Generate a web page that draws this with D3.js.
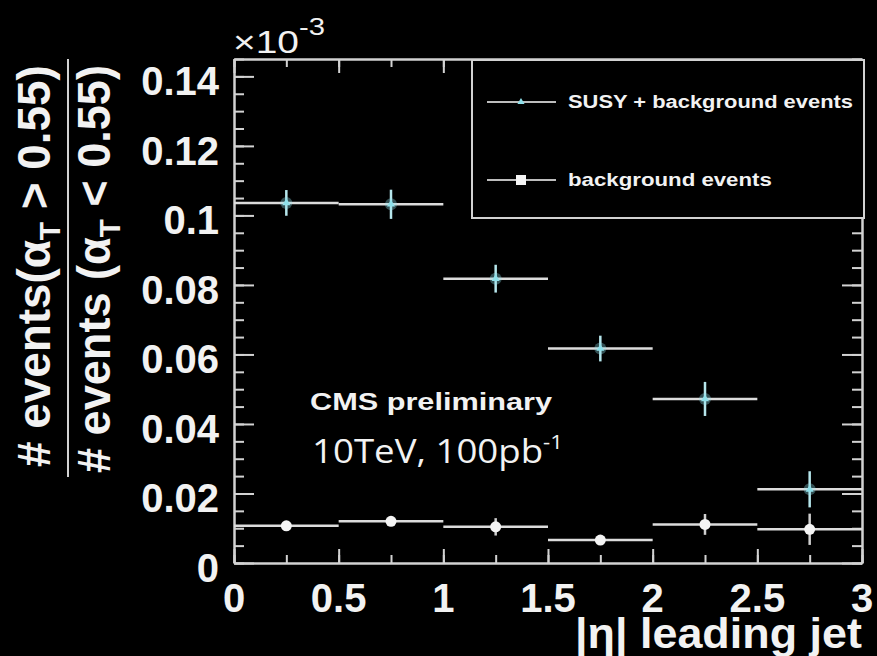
<!DOCTYPE html>
<html>
<head>
<meta charset="utf-8">
<script src="https://cdn.jsdelivr.net/npm/d3@7"></script>
<style>
  html, body { margin: 0; padding: 0; background: #000; }
  svg { display: block; }
</style>
</head>
<body>
<div id="chart"></div>
<script>
    // bins in |eta| of the leading jet
    var binLow = [0, 0.5, 1, 1.5, 2, 2.5];
    var binHigh = [0.5, 1, 1.5, 2, 2.5, 3];

    // ratio values (x 10^-3)
    var susyValues = [0.1036, 0.1032, 0.0818, 0.0617, 0.0472, 0.0212];
    var susyErrors = [0.0037, 0.0042, 0.0040, 0.0037, 0.0049, 0.0052];
    var bgValues = [0.0107, 0.0120, 0.0104, 0.0066, 0.0111, 0.0097];
    var bgErrors = [0.0008, 0.0012, 0.0025, 0.0008, 0.0030, 0.0045];

    var yTicks = [0, 0.02, 0.04, 0.06, 0.08, 0.1, 0.12, 0.14];
    var yTickLabels = ["0", "0.02", "0.04", "0.06", "0.08", "0.1", "0.12", "0.14"];
    var xTicks = [0, 0.5, 1, 1.5, 2, 2.5, 3];
    var xTickLabels = ["0", "0.5", "1", "1.5", "2", "2.5", "3"];

    var W = 877, H = 656;
    // plot frame (window.top is reserved, so prefixed names)
    var fLeft = 234, fRight = 862, fTop = 59, fBottom = 563;
    var clrAxis = "#d2d2d2";
    var clrText = "#f2f2f2";
    var clrSusy = "#8fe0ea";
    var bold = "'Liberation Sans', Arial, sans-serif";

    var svg = d3.select("#chart").append("svg")
      .attr("width", W).attr("height", H)
      .style("background", "#000");

    var x = d3.scaleLinear().domain([0, 3]).range([fLeft, fRight]);
    var y = d3.scaleLinear().domain([0, 0.145]).range([fBottom, fTop]);

    var yMinor = d3.range(0, 0.1451, 0.005);
    var xMinor = d3.range(0, 3.001, 0.25);

    // frame with ticks on all four sides (ROOT style)
    function axisGroup(axis, tx, ty) {
      var g = svg.append("g").attr("transform", "translate(" + tx + "," + ty + ")").call(axis);
      g.selectAll("path, line").attr("stroke", clrAxis).attr("stroke-width", 2);
      g.selectAll("text").remove();
      return g;
    }
    axisGroup(d3.axisRight(y).tickValues(yMinor).tickSize(10).tickSizeOuter(0).tickFormat(""), fLeft, 0);
    axisGroup(d3.axisRight(y).tickValues(yTicks).tickSize(20).tickSizeOuter(0).tickFormat(""), fLeft, 0);
    axisGroup(d3.axisLeft(y).tickValues(yMinor).tickSize(10).tickSizeOuter(0).tickFormat(""), fRight, 0);
    axisGroup(d3.axisLeft(y).tickValues(yTicks).tickSize(20).tickSizeOuter(0).tickFormat(""), fRight, 0);
    axisGroup(d3.axisTop(x).tickValues(xMinor).tickSize(8).tickSizeOuter(0).tickFormat(""), 0, fBottom);
    axisGroup(d3.axisTop(x).tickValues(xTicks).tickSize(14).tickSizeOuter(0).tickFormat(""), 0, fBottom);
    axisGroup(d3.axisBottom(x).tickValues(xMinor).tickSize(8).tickSizeOuter(0).tickFormat(""), 0, fTop);
    axisGroup(d3.axisBottom(x).tickValues(xTicks).tickSize(14).tickSizeOuter(0).tickFormat(""), 0, fTop);

    // tick labels
    svg.selectAll(".ylab").data(yTicks).enter().append("text")
      .attr("x", 219).attr("y", function (d) { return y(d) + 19; })
      .attr("text-anchor", "end")
      .style("font-family", bold).style("font-weight", "bold").style("font-size", "40px")
      .attr("fill", clrText)
      .text(function (d, i) { return yTickLabels[i]; });

    svg.selectAll(".xlab").data(xTicks).enter().append("text")
      .attr("x", function (d) { return x(d); }).attr("y", 612)
      .attr("text-anchor", "middle")
      .style("font-family", bold).style("font-weight", "bold").style("font-size", "40px")
      .attr("fill", clrText)
      .text(function (d, i) { return xTickLabels[i]; });

    // put a text into a group and stretch it to a measured width
    function fitText(tx, ty, rot, w, build) {
      var g = svg.append("g").attr("transform", "translate(" + tx + "," + ty + ") rotate(" + rot + ")");
      var t = g.append("text").attr("fill", clrText);
      build(t);
      var bb = t.node().getBBox();
      var s = w / bb.width;
      t.attr("transform", "scale(" + s + ",1) translate(" + (-bb.x) + ",0)");
      return t;
    }

    // x axis title
    fitText(575, 648, 0, 287, function (t) {
      t.style("font-family", bold).style("font-weight", "bold").style("font-size", "42px")
        .text("|\u03b7| leading jet");
    });

    // y axis title: fraction
    function ratioLabel(t, gap) {
      t.style("font-family", bold).style("font-weight", "bold").style("font-size", "46px");
      t.append("tspan").text("# events" + gap + "(\u03b1");
      t.append("tspan").attr("dy", 10).style("font-size", "30px").text("T");
      return t;
    }
    fitText(50, 467, -90, 402, function (t) {
      ratioLabel(t, "");
      t.append("tspan").attr("dy", -10).text(" > 0.55)");
    });
    fitText(110, 473, -90, 408, function (t) {
      ratioLabel(t, " ");
      t.append("tspan").attr("dy", -10).text(" < 0.55)");
    });
    svg.append("line")
      .attr("x1", 68).attr("x2", 68).attr("y1", 59).attr("y2", 477)
      .attr("stroke", clrAxis).attr("stroke-width", 2);

    // exponent
    fitText(233, 53, 0, 92, function (t) {
      t.style("font-family", bold).style("font-size", "32px");
      t.append("tspan").text("\u00d710");
      t.append("tspan").attr("dy", -18).style("font-size", "24px").text("-3");
    });

    // labels inside the frame
    fitText(310, 410, 0, 243, function (t) {
      t.style("font-family", bold).style("font-weight", "bold").style("font-size", "24px")
        .text("CMS preliminary");
    });
    fitText(312, 463, 0, 251, function (t) {
      t.style("font-family", "'Open Sans', sans-serif").style("font-size", "33px");
      t.append("tspan").text("10TeV, 100pb");
      t.append("tspan").attr("dy", -14).style("font-size", "20px").text("-1");
    });

    // data
    var idx = d3.range(binLow.length);
    var plot = svg.append("g");

    function drawSeries(values, errors, clrErr) {
      plot.selectAll(null).data(idx).enter().append("line")
        .attr("x1", function (i) { return x(binLow[i]); })
        .attr("x2", function (i) { return x(binHigh[i]); })
        .attr("y1", function (i) { return y(values[i]); })
        .attr("y2", function (i) { return y(values[i]); })
        .attr("stroke", "#dcdcdc").attr("stroke-width", 2.5);
      plot.selectAll(null).data(idx).enter().append("line")
        .attr("x1", function (i) { return x((binLow[i] + binHigh[i]) / 2); })
        .attr("x2", function (i) { return x((binLow[i] + binHigh[i]) / 2); })
        .attr("y1", function (i) { return y(values[i] - errors[i]); })
        .attr("y2", function (i) { return y(values[i] + errors[i]); })
        .attr("stroke", clrErr).attr("stroke-width", 2.5);
    }
    drawSeries(bgValues, bgErrors, "#cfcfcf");
    drawSeries(susyValues, susyErrors, "#b6e6ec");

    plot.selectAll(null).data(idx).enter().append("circle")
      .attr("cx", function (i) { return x((binLow[i] + binHigh[i]) / 2); })
      .attr("cy", function (i) { return y(bgValues[i]); })
      .attr("r", 5.5).attr("fill", "#f4f4f4");

    plot.selectAll(null).data(idx).enter().append("circle")
      .attr("cx", function (i) { return x((binLow[i] + binHigh[i]) / 2); })
      .attr("cy", function (i) { return y(susyValues[i]); })
      .attr("r", 6).attr("fill", clrSusy).attr("opacity", 0.35);
    plot.selectAll(null).data(idx).enter().append("path")
      .attr("d", d3.symbol(d3.symbolTriangle).size(28))
      .attr("transform", function (i) {
        return "translate(" + x((binLow[i] + binHigh[i]) / 2) + "," + y(susyValues[i]) + ")";
      })
      .attr("fill", clrSusy);

    // legend
    var leg = svg.append("g");
    leg.append("rect")
      .attr("x", 472).attr("y", 60).attr("width", 392).attr("height", 158)
      .attr("fill", "#000").attr("stroke", clrAxis).attr("stroke-width", 2);
    [102, 180].forEach(function (ly) {
      leg.append("line").attr("x1", 487).attr("x2", 556).attr("y1", ly).attr("y2", ly)
        .attr("stroke", "#bdbdbd").attr("stroke-width", 2);
    });
    leg.append("path").attr("d", d3.symbol(d3.symbolTriangle).size(22))
      .attr("transform", "translate(521,102)").attr("fill", clrSusy);
    leg.append("rect").attr("x", 516).attr("y", 175).attr("width", 10).attr("height", 10)
      .attr("fill", "#f4f4f4");
    fitText(568, 108, 0, 285, function (t) {
      t.style("font-family", bold).style("font-weight", "bold").style("font-size", "19px")
        .text("SUSY + background events");
    });
    fitText(568, 186, 0, 204, function (t) {
      t.style("font-family", bold).style("font-weight", "bold").style("font-size", "19px")
        .text("background events");
    });
</script>
</body>
</html>
